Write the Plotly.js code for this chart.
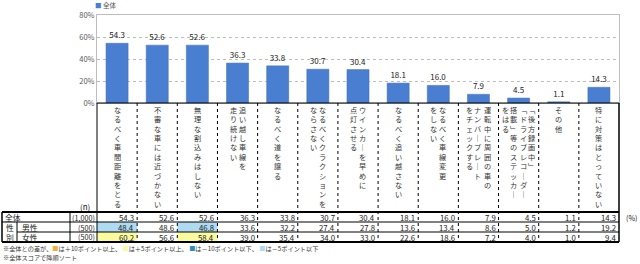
<!DOCTYPE html>
<html>
<head>
<meta charset="utf-8">
<script src="https://cdn.plot.ly/plotly-3.0.1.min.js"></script>
<style>html,body{margin:0;padding:0;background:#fff;}#chart{width:640px;height:264px;}</style>
</head>
<body>
<div id="chart"></div>
<script>
// ---- data ----
const categories = [
  "なるべく車間距離をとる","不審な車には近づかない","無理な割込みはしない","追い越し車線を走り続けない",
  "なるべく道を譲る","なるべくクラクションをならさない","ウインカーを早めに点灯させる","なるべく追い越さない",
  "なるべく車線変更をしない","運転中に周囲の車のナンバープレートをチェックする",
  "「後方録画中」「ドライブレコーダー搭載」等のステッカーをはる","その他","特に対策はとっていない"
];
// vertical text columns, first entry = rightmost column
const categoryLines = [
  ["なるべく車間距離をとる"],
  ["不審な車には近づかない"],
  ["無理な割込みはしない"],
  ["追い越し車線を","走り続けない"],
  ["なるべく道を譲る"],
  ["なるべくクラクションを","ならさない"],
  ["ウインカ｜を早めに","点灯させる"],
  ["なるべく追い越さない"],
  ["なるべく車線変更","をしない"],
  ["運転中に周囲の車の","ナンバ｜プレ｜ト","をチェックする"],
  ["﹁後方録画中﹂","﹁ドライブレコ｜ダ｜","搭載﹂等のステッカ｜","をはる"],
  ["その他"],
  ["特に対策はとっていない"]
];
const totalValues  = [54.3,52.6,52.6,36.3,33.8,30.7,30.4,18.1,16.0,7.9,4.5,1.1,14.3];
const maleValues   = [48.4,48.6,46.8,33.6,32.2,27.4,27.8,13.6,13.4,8.6,5.0,1.2,19.2];
const femaleValues = [60.2,56.6,58.4,39.0,35.4,34.0,33.0,22.6,18.6,7.2,4.0,1.0,9.4];
const rowLabels = ["全体","男性","女性"];
const rowN = ["(1,000)","(500)","(500)"];
const seriesName = "全体";

// ---- layout helpers (pixel -> paper) ----
const W = 640, H = 264;
const PX = x => x / W;
const PY = y => 1 - y / H;
const FONT = '"Noto Sans CJK JP", "Noto Sans", sans-serif';
const BAR = '#4a7ed0';
const colors = {plus10:'#f2b03a', plus5:'#fbfb9e', minus10:'#2b90c6', minus5:'#aedaf2'};

const shapes = [];
const annotations = [];

function hline(y, x0, x1, w, dash) {
  shapes.push({type:'line', xref:'paper', yref:'paper', x0:PX(x0), x1:PX(x1), y0:PY(y), y1:PY(y),
    line:{color:'#000', width:w, dash:dash||'solid'}});
}
function vline(x, y0, y1, w, dash) {
  shapes.push({type:'line', xref:'paper', yref:'paper', x0:PX(x), x1:PX(x), y0:PY(y0), y1:PY(y1),
    line:{color:'#000', width:w, dash:dash||'solid'}});
}
function txt(text, x, y, opts) {
  annotations.push(Object.assign({text:text, xref:'paper', yref:'paper', x:PX(x), y:PY(y),
    showarrow:false, font:{family:FONT, size:7.8, color:'#222'}, xanchor:'left', yanchor:'middle'}, opts||{}));
}

// table rows geometry
const rowY = [217.5, 227.5, 237.2];
const rowBand = [[212,222],[222,232],[232,242]];

// highlight cells (computed from differences to total)
[maleValues, femaleValues].forEach((vals, r) => {
  vals.forEach((v, i) => {
    const d = v - totalValues[i];
    let c = null;
    if (d >= 10) c = colors.plus10; else if (d >= 5) c = colors.plus5;
    else if (d <= -10) c = colors.minus10; else if (d <= -5) c = colors.minus5;
    if (c) shapes.push({type:'rect', xref:'x', yref:'paper', x0:i-0.5, x1:i+0.5,
      y0:PY(rowBand[r+1][1]), y1:PY(rowBand[r+1][0]), fillcolor:c, line:{width:0}, layer:'above'});
  });
});

// category box + column separators
hline(103, 97, 619, 1);
vline(97, 103, 242, 1);
vline(619, 103, 242, 1.5);
for (let i = 0; i < categories.length - 1; i++) {
  shapes.push({type:'line', xref:'x', yref:'paper', x0:i+0.5, x1:i+0.5, y0:PY(103), y1:PY(242),
    line:{color:'#000', width:1, dash:'dot'}});
}
// table lines
hline(212, 2, 619, 2);
hline(222, 2, 619, 1);
hline(232, 17, 619, 1);
hline(242, 2, 619, 2);
vline(2, 212, 242, 1.5);
vline(17, 222, 242, 1);
vline(70, 212, 242, 1);

// vertical category labels
categoryLines.forEach((lines, i) => {
  const n = lines.length;
  lines.forEach((ln, k) => {
    annotations.push({text: Array.from(ln).join('<br>'), xref:'x', yref:'paper', x:i,
      xshift: ((n-1)/2 - k) * 9, y:PY(104), yanchor:'top', xanchor:'center', align:'center',
      showarrow:false, borderpad:0, font:{family:FONT, size:7.2, color:'#333'}});
  });
});

// table text
txt('(n)', 85, 206, {xanchor:'center', font:{family:FONT, size:8, color:'#111'}});
txt(rowLabels[0], 3, rowY[0]);
txt('性', 9.5, rowY[1], {xanchor:'center'});
txt('別', 9.5, rowY[2], {xanchor:'center'});
txt(rowLabels[1], 20, rowY[1]);
txt(rowLabels[2], 20, rowY[2]);
rowN.forEach((n, r) => txt(n, 97, rowY[r], {xanchor:'right', font:{family:FONT, size:7.2, color:'#222'}}));
[totalValues, maleValues, femaleValues].forEach((vals, r) => {
  vals.forEach((v, i) => {
    annotations.push({text: v.toFixed(1), xref:'x', yref:'paper', x:i+0.5, xshift:-1, y:PY(rowY[r]),
      xanchor:'right', yanchor:'middle', showarrow:false, font:{family:FONT, size:7.8, color:'#222'}});
  });
});
txt('(%)', 624, 217.5, {font:{family:FONT, size:7.2, color:'#222'}});

// legend-like label
txt('<span style="color:' + BAR + '">■</span> ' + seriesName, 93, 5, {font:{family:FONT, size:6.5, color:'#555'}});

// footnotes
const sq = c => '<span style="color:' + c + '">■</span>';
txt('※全体との差が、' + sq(colors.plus10) + 'は＋10ポイント以上、 ' + sq(colors.plus5) + 'は＋5ポイント以上、 ' +
    sq(colors.minus10) + 'は－10ポイント以下、 ' + sq(colors.minus5) + 'は－5ポイント以下',
    1, 248.5, {font:{family:FONT, size:6.2, color:'#333'}});
txt('※全体スコアで降順ソート', 1, 257.5, {font:{family:FONT, size:6.2, color:'#333'}});

const trace = {
  type:'bar', x:categories, y:totalValues, name:seriesName,
  marker:{color:BAR, line:{color:'#3f6fbf', width:0.5}},
  text: totalValues.map(v => v.toFixed(1)), textposition:'outside', cliponaxis:false,
  textfont:{family:FONT, size:8, color:'#222'}, hoverinfo:'skip'
};

const layout = {
  width:W, height:H, margin:{l:0, r:0, t:0, b:0, autoexpand:false},
  paper_bgcolor:'#fff', plot_bgcolor:'#fff', showlegend:false, bargap:0.45,
  font:{family:FONT},
  xaxis:{domain:[PX(97), PX(619)], range:[-0.5, 12.5], showticklabels:false, ticks:'',
    showgrid:false, showline:true, mirror:true, linecolor:'#bdbdbd', linewidth:1, fixedrange:true},
  yaxis:{domain:[PY(103), PY(15)], range:[0, 80], dtick:20, ticksuffix:'%',
    tickfont:{family:FONT, size:7.5, color:'#595959'}, showgrid:true, gridcolor:'#bdbdbd', griddash:'dot',
    zeroline:false, showline:true, mirror:true, linecolor:'#bdbdbd', linewidth:1, ticks:'', fixedrange:true},
  shapes:shapes, annotations:annotations
};

Plotly.newPlot('chart', [trace], layout, {displayModeBar:false, staticPlot:true});
</script>
</body>
</html>
